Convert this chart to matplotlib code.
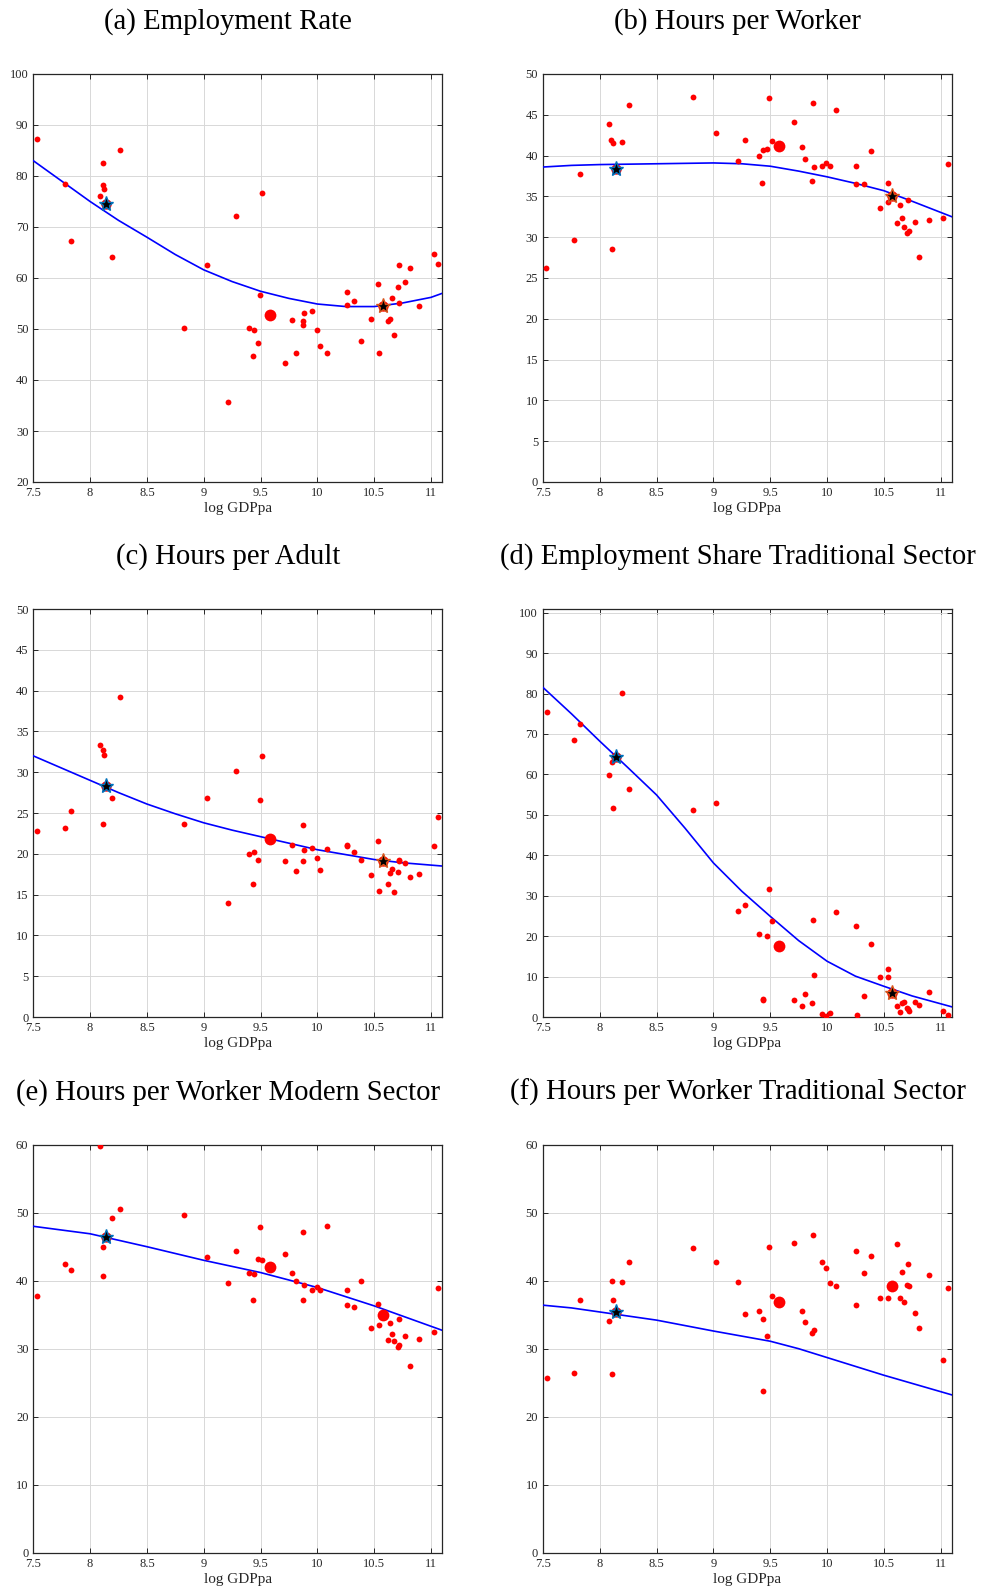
import numpy as np
import matplotlib.pyplot as plt

plt.rcParams['font.family'] = ['Liberation Serif', 'DejaVu Serif']

titles = ['(a) Employment Rate', '(b) Hours per Worker', '(c) Hours per Adult',
          '(d) Employment Share Traditional Sector',
          '(e) Hours per Worker Modern Sector', '(f) Hours per Worker Traditional Sector']

# (a) employment rate
a_x = [7.535, 7.776, 7.83, 8.09, 8.11, 8.11, 8.125, 8.196, 8.263, 8.827, 9.027, 9.28, 9.517,
       9.218, 9.494, 9.40, 9.443, 9.479, 9.435, 9.714, 9.781, 9.811, 9.884, 9.875, 9.878, 9.954,
       9.993, 10.025, 10.081, 10.26, 10.263, 10.327, 10.386, 10.471, 10.536, 10.539, 10.618,
       10.641, 10.659, 10.674, 10.706, 10.72, 10.715, 10.77, 10.812, 10.897, 11.023, 11.064]
a_y = [87.2, 78.5, 67.2, 76.0, 82.5, 78.2, 77.4, 64.2, 85.0, 50.1, 62.5, 72.2, 76.7,
       35.6, 56.6, 50.1, 49.8, 47.2, 44.7, 43.4, 51.7, 45.2, 53.2, 51.6, 50.8, 53.6,
       49.8, 46.6, 45.2, 57.2, 54.7, 55.5, 47.7, 51.9, 58.9, 45.3, 51.5,
       51.9, 56.0, 48.9, 58.3, 62.5, 55.1, 59.2, 61.9, 54.6, 64.8, 62.8]
a_fit_x = [7.5, 7.75, 8.0, 8.25, 8.5, 8.75, 9.0, 9.25, 9.5, 9.75, 10.0, 10.25, 10.5, 10.75, 11.0, 11.1]
a_fit_y = [83.0, 79.0, 75.0, 71.3, 68.0, 64.6, 61.6, 59.3, 57.4, 56.0, 54.9, 54.4, 54.4, 55.1, 56.2, 57.0]

# (b) hours per worker
b_x = [7.529, 7.770, 7.823, 8.085, 8.102, 8.12, 8.194, 8.108, 8.258, 8.822, 9.025, 9.216, 9.281,
       9.398, 9.434, 9.475, 9.431, 9.49, 9.516, 9.71, 9.777, 9.807, 9.877, 9.883, 9.871, 9.954,
       9.989, 10.024, 10.077, 10.259, 10.256, 10.327, 10.383, 10.465, 10.536, 10.536, 10.638,
       10.712, 10.656, 10.618, 10.674, 10.703, 10.721, 10.771, 10.809, 10.894, 11.02, 11.062]
b_y = [26.2, 29.6, 37.7, 43.9, 41.9, 41.6, 41.7, 28.6, 46.2, 47.2, 42.8, 39.3, 41.9,
       39.9, 40.7, 40.8, 36.6, 47.1, 41.8, 44.1, 41.0, 39.6, 46.4, 38.6, 36.9, 38.7,
       39.1, 38.7, 45.6, 38.7, 36.5, 36.5, 40.6, 33.6, 36.7, 34.3, 33.9,
       34.5, 32.4, 31.7, 31.3, 30.5, 30.7, 31.9, 27.6, 32.1, 32.4, 39.0]
b_fit_x = [7.5, 7.75, 8.0, 8.5, 9.0, 9.25, 9.5, 9.75, 10.0, 10.25, 10.5, 10.75, 11.1]
b_fit_y = [38.6, 38.8, 38.9, 39.0, 39.1, 39.0, 38.7, 38.1, 37.4, 36.6, 35.7, 34.4, 32.5]

# (c) hours per adult
c_x = [7.535, 7.776, 7.83, 8.09, 8.11, 8.125, 8.11, 8.196, 8.263, 8.827, 9.027, 9.28, 9.218,
       9.40, 9.443, 9.435, 9.479, 9.494, 9.517, 9.714, 9.781, 9.811, 9.884, 9.875, 9.878, 9.954,
       9.993, 10.025, 10.081, 10.26, 10.263, 10.327, 10.386, 10.471, 10.536, 10.539, 10.618,
       10.641, 10.659, 10.674, 10.706, 10.72, 10.715, 10.77, 10.812, 10.897, 11.023, 11.064]
c_y = [22.8, 23.2, 25.3, 33.3, 32.7, 32.1, 23.6, 26.8, 39.2, 23.6, 26.8, 30.2, 14.0,
       20.0, 20.2, 16.3, 19.2, 26.6, 32.0, 19.1, 21.1, 17.9, 20.5, 19.1, 23.5, 20.7,
       19.5, 18.0, 20.6, 21.1, 20.9, 20.2, 19.3, 17.4, 21.6, 15.5, 16.3,
       17.6, 18.1, 15.3, 17.8, 19.2, 19.1, 18.9, 17.1, 17.5, 21.0, 24.5]
c_fit_x = [7.5, 7.75, 8.0, 8.25, 8.5, 8.75, 9.0, 9.25, 9.5, 9.75, 10.0, 10.25, 10.5, 10.75, 11.1]
c_fit_y = [32.0, 30.5, 29.0, 27.5, 26.1, 24.9, 23.8, 22.9, 22.1, 21.3, 20.5, 19.9, 19.3, 18.9, 18.5]

# (d) employment share traditional sector
d_x = [7.532, 7.77, 7.823, 8.085, 8.105, 8.12, 8.194, 8.258, 8.822, 9.025, 9.216, 9.281, 9.398,
       9.434, 9.440, 9.475, 9.49, 9.516, 9.71, 9.777, 9.807, 9.871, 9.877, 9.883, 9.954, 9.989,
       10.024, 10.077, 10.256, 10.26, 10.327, 10.383, 10.465, 10.536, 10.536, 10.618, 10.638,
       10.656, 10.674, 10.703, 10.712, 10.721, 10.771, 10.809, 10.894, 11.02, 11.062]
d_y = [75.5, 68.5, 72.4, 59.9, 63.0, 51.6, 80.1, 56.5, 51.2, 53.0, 26.1, 27.7, 20.5,
       4.4, 4.2, 20.1, 31.6, 23.8, 4.2, 2.6, 5.6, 3.5, 24.1, 10.3, 0.8, 0.3,
       1.0, 25.9, 22.4, 0.4, 5.3, 18.0, 9.9, 11.9, 9.8, 2.8, 1.3,
       3.5, 3.6, 2.2, 2.0, 1.6, 3.7, 2.9, 6.1, 1.6, 0.4]
d_fit_x = [7.5, 7.75, 8.0, 8.25, 8.5, 8.75, 9.0, 9.25, 9.5, 9.75, 10.0, 10.25, 10.5, 10.75, 11.1]
d_fit_y = [81.5, 75.0, 68.2, 61.6, 54.9, 46.7, 38.1, 31.1, 24.9, 18.9, 13.8, 10.1, 7.6, 5.2, 2.5]

# (e) hours per worker modern sector
e_x = [7.535, 7.776, 7.83, 8.09, 8.11, 8.11, 8.196, 8.263, 8.827, 9.027, 9.218, 9.28, 9.40,
       9.443, 9.435, 9.479, 9.517, 9.494, 9.714, 9.781, 9.811, 9.884, 9.875, 9.878, 9.954,
       9.993, 10.025, 10.081, 10.26, 10.26, 10.327, 10.386, 10.471, 10.536, 10.539, 10.618,
       10.641, 10.659, 10.674, 10.706, 10.72, 10.715, 10.77, 10.812, 10.897, 11.023, 11.064]
e_y = [37.7, 42.4, 41.6, 59.8, 45.0, 40.7, 49.2, 50.5, 49.6, 43.5, 39.6, 44.4, 41.1,
       41.0, 37.2, 43.2, 43.1, 47.9, 44.0, 41.1, 39.9, 39.4, 37.1, 47.1, 38.6,
       39.1, 38.6, 48.1, 38.6, 36.4, 36.2, 39.9, 33.1, 36.6, 33.5, 31.3,
       33.8, 32.1, 31.1, 30.3, 30.6, 34.4, 31.9, 27.5, 31.5, 32.4, 39.0]
e_fit_x = [7.5, 8.0, 8.5, 9.0, 9.5, 10.0, 10.5, 11.1]
e_fit_y = [48.0, 46.9, 45.0, 43.0, 41.2, 39.0, 36.3, 32.7]

# (f) hours per worker traditional sector
f_x = [7.532, 7.77, 7.823, 8.085, 8.108, 8.108, 8.12, 8.194, 8.258, 8.822, 9.025, 9.216, 9.281,
       9.398, 9.434, 9.437, 9.475, 9.49, 9.516, 9.71, 9.777, 9.807, 9.871, 9.883, 9.877, 9.954,
       9.989, 10.024, 10.077, 10.256, 10.256, 10.327, 10.383, 10.465, 10.536, 10.618, 10.638,
       10.656, 10.674, 10.703, 10.721, 10.712, 10.771, 10.809, 10.894, 11.02, 11.062]
f_y = [25.7, 26.4, 37.1, 34.1, 26.3, 40.0, 37.1, 39.8, 42.7, 44.8, 42.7, 39.8, 35.1,
       35.6, 23.8, 34.4, 31.9, 45.0, 37.8, 45.6, 35.6, 34.0, 32.3, 32.8, 46.7, 42.7,
       41.8, 39.7, 39.2, 44.3, 36.5, 41.1, 43.7, 37.4, 37.4, 45.4, 37.5,
       41.3, 36.8, 39.4, 39.2, 42.4, 35.2, 33.0, 40.9, 28.4, 39.0]
f_fit_x = [7.5, 7.75, 8.0, 8.5, 9.0, 9.5, 9.75, 10.0, 10.5, 11.1]
f_fit_y = [36.4, 36.0, 35.4, 34.2, 32.6, 31.1, 30.0, 28.7, 26.1, 23.2]

# highlighted countries: stars (blue edge = poor, orange edge = rich) and big dots
star_x = [8.14, 10.575]
star_y = [[74.6, 54.5], [38.4, 35.1], [28.3, 19.1], [64.3, 6.0], [46.4, None], [35.4, None]]
big_x = [9.58, 10.575]
big_y = [[52.7, None], [41.2, None], [21.8, None], [17.5, None], [42.0, 35.0], [36.9, 39.2]]

ylims = [(20, 100), (0, 50), (0, 50), (0, 100.9), (0, 60), (0, 60)]
ysteps = [10, 5, 5, 10, 10, 10]

xs = [a_x, b_x, c_x, d_x, e_x, f_x]
ys = [a_y, b_y, c_y, d_y, e_y, f_y]
fxs = [a_fit_x, b_fit_x, c_fit_x, d_fit_x, e_fit_x, f_fit_x]
fys = [a_fit_y, b_fit_y, c_fit_y, d_fit_y, e_fit_y, f_fit_y]

W, H = 984, 1587
fig = plt.figure(figsize=(W / 100, H / 100), dpi=100)

lefts = [33.3, 543]
tops = [74, 609, 1144.7]
aw, ah = 409, 408
title_cx = [228, 737.5]
edge_cols = [(0, 0.447, 0.741), (0.85, 0.325, 0.098)]
dark = '#262626'

for i in range(6):
    r, c = divmod(i, 2)
    ax = fig.add_axes([lefts[c] / W, 1 - (tops[r] + ah) / H, aw / W, ah / H])
    ax.set_xlim(7.5, 11.1)
    ax.set_ylim(*ylims[i])
    ax.set_xticks(np.arange(7.5, 11.01, 0.5))
    ax.set_xticklabels(['7.5', '8', '8.5', '9', '9.5', '10', '10.5', '11'])
    ax.set_yticks(np.arange(ylims[i][0], int(ylims[i][1]) + 0.1, ysteps[i]))
    ax.grid(True, color='#d8d8d8', lw=0.7)
    ax.set_axisbelow(True)
    ax.tick_params(direction='in', top=True, right=True, length=3.5, width=0.7,
                   labelsize=9, colors=dark, pad=3.5)
    for s in ax.spines.values():
        s.set_color(dark)
        s.set_linewidth(0.9)
    ax.set_xlabel('log GDPpa', fontsize=11, color=dark, labelpad=2.5)

    ax.plot(fxs[i], fys[i], color='blue', lw=1.2, zorder=3)
    ax.plot(xs[i], ys[i], 'o', color='red', ms=4.2, mec='none', zorder=4)
    for k in range(2):
        if big_y[i][k] is not None:
            ax.plot(big_x[k], big_y[i][k], 'o', color='red', ms=8.5, mec='none', zorder=5)
        if star_y[i][k] is not None:
            ax.plot(star_x[k], star_y[i][k], 'o', color='red', ms=7.5, mec='none', zorder=5)
            ax.plot(star_x[k], star_y[i][k], '*', color='black', ms=11,
                    mec=edge_cols[k], mew=1.0, zorder=6)

    fig.text(title_cx[c] / W, 1 - (tops[r] - 52) / H, titles[i],
             fontsize=20.7, ha='center', va='center', color='black')

fig.savefig('out.png', dpi=100)
